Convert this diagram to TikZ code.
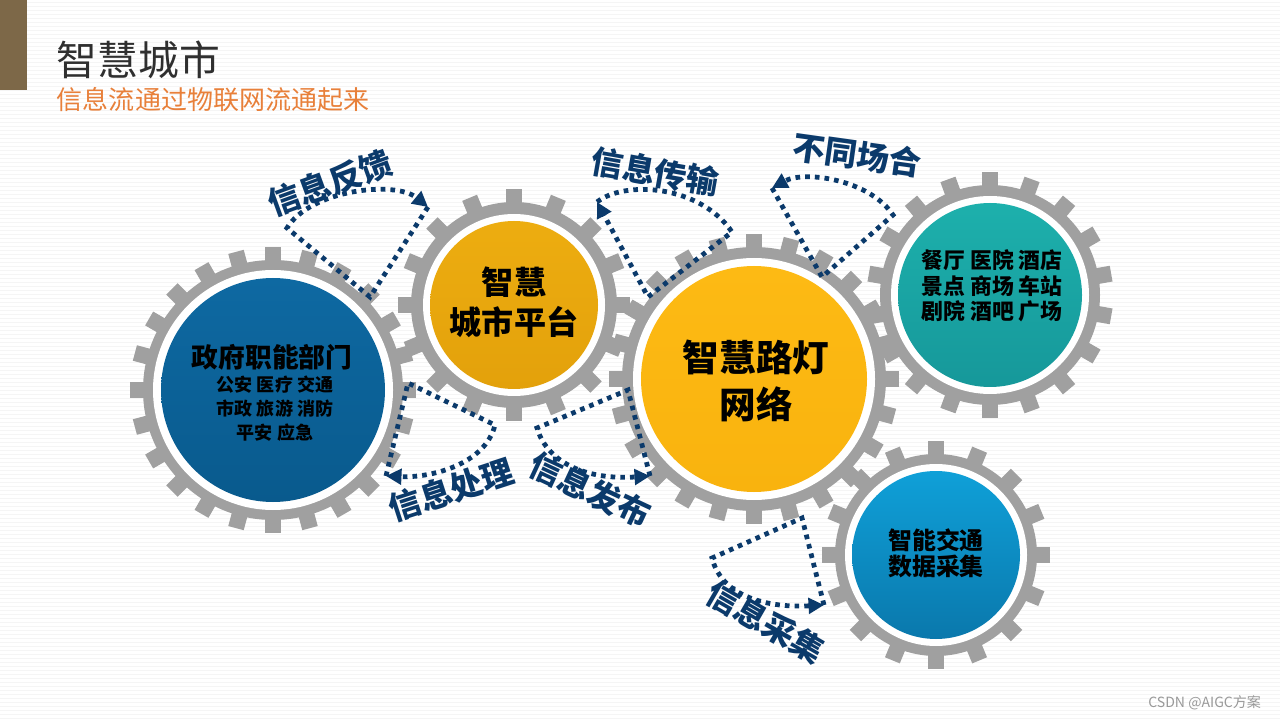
\documentclass[tikz,border=0pt]{standalone}
\usepackage{fontspec}
\setmainfont{Noto Sans CJK SC}
\usetikzlibrary{arrows.meta}

\begin{document}
\begin{tikzpicture}[x=0.025cm, y=-0.025cm,
    pfeil/.style={draw=pfeilblau, line width=3.4pt, dash pattern=on 3.3pt off 3.6pt,
      -{Triangle[length=11pt,width=11pt]}},
    etikett/.style={text=pfeilblau, font=\bfseries\fontsize{23}{23}\selectfont, inner sep=0pt},
    inhalt/.style={text=black, font=\bfseries, align=center, inner sep=0pt},
    streifen/.style={draw=black!4, line width=0.5pt}]

  % --- Farben ---
  \definecolor{zahngrau}{HTML}{A0A0A0}   % Zahnräder
  \definecolor{pfeilblau}{HTML}{0B3A6B}  % Pfeile und Beschriftung
  \definecolor{titelgrau}{HTML}{2F2F2F}
  \definecolor{untertitel}{HTML}{E8803A}
  \definecolor{balken}{HTML}{7D6848}
  \definecolor{col1a}{HTML}{0E69A2} \definecolor{col1b}{HTML}{095A8D} % Regierung
  \definecolor{col2a}{HTML}{EDAD10} \definecolor{col2b}{HTML}{E3A10B} % Plattform
  \definecolor{col3a}{HTML}{FDBA14} \definecolor{col3b}{HTML}{F9B30E} % Strassenlicht
  \definecolor{col4a}{HTML}{1DB0AC} \definecolor{col4b}{HTML}{16989A} % Orte
  \definecolor{col5a}{HTML}{0FA0D8} \definecolor{col5b}{HTML}{0A78AC} % Verkehr

  % --- Hilfsmakro: \zahnrad{x}{y}{Zähne}{Körperradius}{Zahnradius} ---
  \newcommand{\zahnrad}[5]{%
    \begin{scope}[shift={(#1,#2)}]
      \fill[zahngrau] (0,0) circle[radius=#4];
      \foreach \i in {1,...,#3}
        \fill[zahngrau, rotate={\i*360/#3}] (-8,{#4-5}) rectangle (8,#5);
    \end{scope}
  }

  % --- Hintergrund ---
  \useasboundingbox (0,0) rectangle (1280,720);
  \fill[white] (0,0) rectangle (1280,720);
  \foreach \y in {2,6,...,718}
    \draw[streifen] (0,\y) -- (1280,\y);
  \fill[balken] (0,0) rectangle (27,90);

  % --- Titel ---
  \node[anchor=west, text=titelgrau, font=\fontsize{29}{29}\selectfont] (titel) at (52,60) {智慧城市};
  \node[anchor=west, text=untertitel, font=\fontsize{18.5}{18.5}\selectfont] (untertitel) at (52,100) {信息流通过物联网流通起来};

  % --- Zahnräder (grau) ---
  \zahnrad{273}{390}{24}{130}{143}
  \zahnrad{514}{305}{16}{103}{116}
  \zahnrad{754}{379}{24}{132}{145}
  \zahnrad{990}{295}{18}{110}{123}
  \zahnrad{936}{555}{16}{101}{114}

  % --- Ringe und Scheiben ---
  \fill[white] (273,390) circle[radius=120];
  \shade[top color=col1a, bottom color=col1b] (273,390) circle[radius=112];
  \fill[white] (514,305) circle[radius=91];
  \shade[top color=col2a, bottom color=col2b] (514,305) circle[radius=84];
  \fill[white] (754,379) circle[radius=121];
  \shade[top color=col3a, bottom color=col3b] (754,379) circle[radius=113];
  \fill[white] (990,295) circle[radius=99];
  \shade[top color=col4a, bottom color=col4b] (990,295) circle[radius=92];
  \fill[white] (936,555) circle[radius=91];
  \shade[top color=col5a, bottom color=col5b] (936,555) circle[radius=84];

  % --- Texte in den Scheiben ---
  \node[inhalt, font=\bfseries\fontsize{19}{24}\selectfont] (regierung) at (272,357) {政府职能部门};
  \node[inhalt, font=\bfseries\fontsize{12.8}{17}\selectfont] (bereiche) at (275,409) {公安 医疗 交通\\市政 旅游 消防\\平安 应急};
  \node[inhalt, font=\bfseries\fontsize{22.8}{28.5}\selectfont] (plattform) at (514,302) {智慧\\城市平台};
  \node[inhalt, font=\bfseries\fontsize{26}{34}\selectfont] (licht) at (756,381) {智慧路灯\\网络};
  \node[inhalt, font=\bfseries\fontsize{15.5}{18}\selectfont] (orte) at (992,286) {餐厅 医院 酒店\\景点 商场 车站\\剧院 酒吧 广场};
  \node[inhalt, font=\bfseries\fontsize{17}{18.5}\selectfont] (verkehr) at (936,553) {智能交通\\数据采集};

  % --- Pfeile ---
  \coordinate (fankui-a) at (370,297);
  \coordinate (fankui-l) at (287,228);
  \coordinate (fankui-r) at (428,207);
  \draw[pfeil] (fankui-r) -- (fankui-a) -- (fankui-l) .. controls (310,190) and (395,180) .. (fankui-r);

  \coordinate (chuanshu-a) at (648,297);
  \coordinate (chuanshu-l) at (597,202);
  \coordinate (chuanshu-r) at (732,232);
  \draw[pfeil] (chuanshu-l) .. controls (625,180) and (700,185) .. (chuanshu-r) -- (chuanshu-a) -- (chuanshu-l);

  \coordinate (changhe-a) at (822,277);
  \coordinate (changhe-l) at (772,188);
  \coordinate (changhe-r) at (893,215);
  \draw[pfeil] (changhe-l) -- (changhe-a) -- (changhe-r) .. controls (870,180) and (805,170) .. (changhe-l);

  \coordinate (chuli-a) at (408,383);
  \coordinate (chuli-l) at (386,476);
  \coordinate (chuli-r) at (495,425);
  \draw[pfeil] (chuli-l) -- (chuli-a) -- (chuli-r) .. controls (485,465) and (430,478) .. (chuli-l);

  \coordinate (fabu-a) at (628,390);
  \coordinate (fabu-l) at (537,428);
  \coordinate (fabu-r) at (650,476);
  \draw[pfeil] (fabu-r) -- (fabu-a) -- (fabu-l) .. controls (548,465) and (590,480) .. (fabu-r);

  \coordinate (caiji-a) at (802,518);
  \coordinate (caiji-l) at (712,558);
  \coordinate (caiji-r) at (824,605);
  \draw[pfeil] (caiji-r) -- (caiji-a) -- (caiji-l) .. controls (722,598) and (770,608) .. (caiji-r);

  % --- Beschriftungen ---
  \node[etikett, rotate=20] (l-fankui) at (330,183) {信息反馈};
  \node[etikett, rotate=-10] (l-chuanshu) at (655,172) {信息传输};
  \node[etikett, rotate=-8] (l-changhe) at (857,155) {不同场合};
  \node[etikett, rotate=18] (l-chuli) at (451,490) {信息处理};
  \node[etikett, rotate=-25] (l-fabu) at (590,490) {信息发布};
  \node[etikett, rotate=-30] (l-caiji) at (766,622) {信息采集};

  % --- Quelle ---
  \node[anchor=east, text=black!40, font=\fontsize{10}{10}\selectfont] (quelle) at (1266,703) {CSDN @AIGC方案};

\end{tikzpicture}
\end{document}
